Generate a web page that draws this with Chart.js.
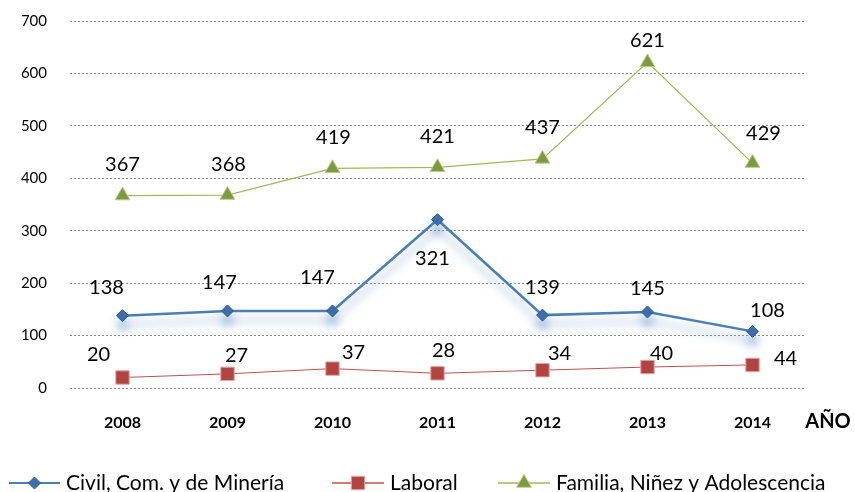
<!DOCTYPE html>
<html>
<head>
<meta charset="utf-8">
<script src="https://cdn.jsdelivr.net/npm/chart.js@4"></script>
<style>
  html, body { margin: 0; padding: 0; background: #fff; }
  #wrap { width: 855px; height: 492px; position: relative; }
</style>
</head>
<body>
<div id="wrap"><canvas id="chart"></canvas></div>
<script>
const years = ['2008', '2009', '2010', '2011', '2012', '2013', '2014'];
const civil = [138, 147, 147, 321, 139, 145, 108];
const laboral = [20, 27, 37, 28, 34, 40, 44];
const familia = [367, 368, 419, 421, 437, 621, 429];
const seriesNames = ['Civil, Com. y de Minería', 'Laboral', 'Familia, Niñez y Adolescencia'];
const yTicks = [0, 100, 200, 300, 400, 500, 600, 700];

const FONT = 'Lato, "Open Sans", sans-serif';

// label offsets from each point (label centre)
const labelOffsets = [
  [[-16, -28], [-8, -28], [-15, -33], [-5, 39], [0, -28], [0, -23], [15, -21]],
  [[-24, -23], [9, -18], [21, -16], [6, -23], [17, -17], [14, -13], [33, -6]],
  [[0, -31], [1, -31], [1, -31], [0, -31], [0, -31], [0, -22], [11, -30]]
];

const glow = {
  id: 'glow',
  beforeDatasetDraw(chart, args) {
    if (args.index !== 0) return;
    const ctx = chart.ctx;
    ctx.save();
    ctx.shadowColor = 'rgba(79,129,189,0.55)';
    ctx.shadowBlur = 10;
    ctx.shadowOffsetY = 9;
  },
  afterDatasetDraw(chart, args) {
    if (args.index === 0) chart.ctx.restore();
  }
};

const extras = {
  id: 'extras',
  afterDatasetsDraw(chart) {
    const ctx = chart.ctx;
    ctx.save();
    ctx.fillStyle = '#000';
    ctx.textBaseline = 'middle';

    // y tick labels, right aligned
    const ys = chart.scales.y;
    ctx.font = '15px ' + FONT;
    ctx.textAlign = 'right';
    yTicks.forEach(v => ctx.fillText(String(v), 47, ys.getPixelForValue(v)));

    // data labels
    ctx.font = '20px ' + FONT;
    ctx.textAlign = 'center';
    chart.data.datasets.forEach((ds, i) => {
      chart.getDatasetMeta(i).data.forEach((pt, j) => {
        const [dx, dy] = labelOffsets[i][j];
        ctx.fillText(String(ds.data[j]), pt.x + dx, pt.y + dy);
      });
    });

    // axis title
    ctx.font = 'bold 20px ' + FONT;
    ctx.fillText('AÑO', 828, 422);

    // legend
    const items = [
      { x: 9, w: 51, text: 66 },
      { x: 332, w: 52, text: 390 },
      { x: 498, w: 52, text: 556 }
    ];
    const y = 483;
    chart.data.datasets.forEach((ds, i) => {
      const it = items[i];
      ctx.strokeStyle = ds.borderColor;
      ctx.lineWidth = i === 0 ? 2 : 1.5;
      ctx.beginPath();
      ctx.moveTo(it.x, y);
      ctx.lineTo(it.x + it.w, y);
      ctx.stroke();
      ctx.fillStyle = ds.pointBackgroundColor;
      ctx.strokeStyle = ds.pointBorderColor;
      ctx.lineWidth = 1;
      Chart.helpers.drawPoint(ctx, {
        pointStyle: ds.pointStyle,
        radius: ds.pointRadius,
        borderWidth: 1,
        rotation: 0
      }, it.x + it.w / 2, y);
      ctx.fillStyle = '#000';
      ctx.font = '21px ' + FONT;
      ctx.textAlign = 'left';
      ctx.fillText(seriesNames[i], it.text, y);
    });
    ctx.restore();
  }
};

new Chart(document.getElementById('chart'), {
  type: 'line',
  data: {
    labels: years,
    datasets: [
      {
        label: seriesNames[0], data: civil,
        borderColor: '#4A7EBB', borderWidth: 2.5,
        pointStyle: 'rectRot', pointRadius: 6,
        pointBackgroundColor: '#3E6EA8', pointBorderColor: '#2F5A8E', pointBorderWidth: 1
      },
      {
        label: seriesNames[1], data: laboral,
        borderColor: '#C0504D', borderWidth: 1,
        pointStyle: 'rect', pointRadius: 9.5,
        pointBackgroundColor: '#B04442', pointBorderColor: '#E8A5A3', pointBorderWidth: 1
      },
      {
        label: seriesNames[2], data: familia,
        borderColor: '#9BBB59', borderWidth: 1.2,
        pointStyle: 'triangle', pointRadius: 8.5,
        pointBackgroundColor: '#7D9A43', pointBorderColor: '#B5CF84', pointBorderWidth: 1
      }
    ]
  },
  options: {
    responsive: true,
    maintainAspectRatio: false,
    animation: false,
    layout: { padding: { left: 0, right: 50, top: 21, bottom: 0 } },
    plugins: { legend: { display: false }, tooltip: { enabled: false } },
    scales: {
      x: {
        offset: true,
        grid: { display: false, drawTicks: false },
        border: { display: false },
        ticks: { color: '#000', font: { family: FONT, size: 16, weight: 'bold' }, padding: 25 },
        afterFit(scale) { scale.height = 104; }
      },
      y: {
        min: 0, max: 700,
        afterBuildTicks(scale) { scale.ticks = yTicks.map(v => ({ value: v })); },
        grid: { color: '#8c8c8c', lineWidth: 1, drawTicks: false },
        border: { display: false, dash: [2, 2] },
        ticks: { display: false },
        afterFit(scale) { scale.width = 70; }
      }
    }
  },
  plugins: [glow, extras]
});
</script>
</body>
</html>
